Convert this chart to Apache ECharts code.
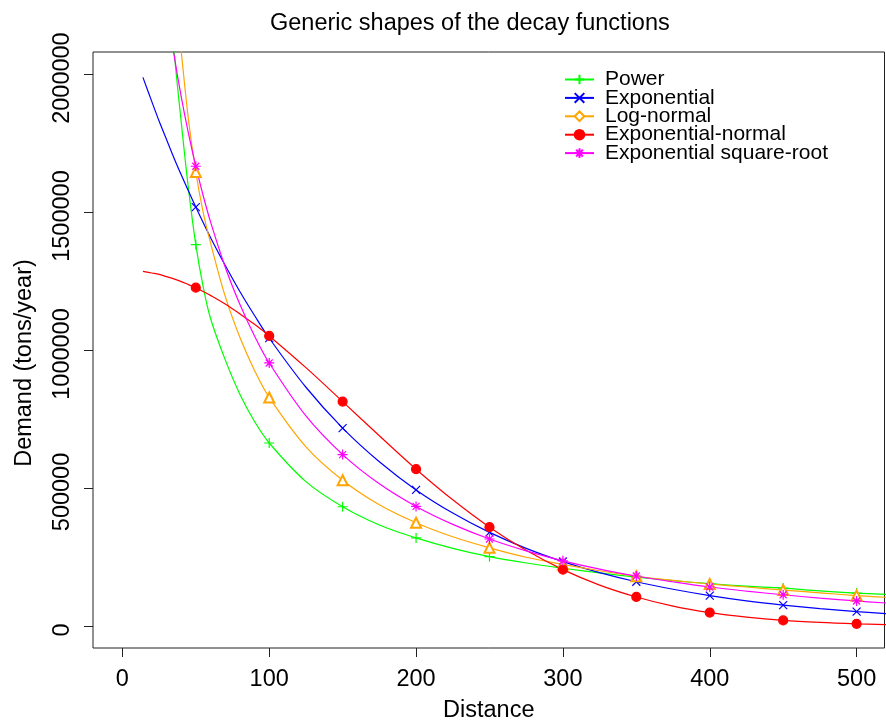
<!DOCTYPE html>
<html>
<head>
<meta charset="utf-8">
<script src="https://cdn.jsdelivr.net/npm/echarts@6/dist/echarts.min.js"></script>
<style>
html,body{margin:0;padding:0;background:#fff;}
#chart{width:886px;height:722px;}
</style>
</head>
<body>
<div id="chart"></div>
<script>
// ---- data ----
const distances = [14, 20, 25, 30, 35, 40, 45, 50, 55, 60, 70, 80, 90, 100, 125, 150, 175, 200, 225, 250, 275, 300, 325, 350, 375, 400, 425, 450, 475, 500, 520];
const markerDistances = [50, 100, 150, 200, 250, 300, 350, 400, 450, 500];

const power = [null, null, 3050000, 2500000, 2100000, 1830000, 1585000, 1382000, 1230000, 1115000, 965000, 840000, 741000, 663000, 523000, 432000, 366000, 319000, 281000, 251000, 228000, 209000, 192000, 177000, 164000, 153000, 144000, 137000, 127000, 119000, 114000];
const exponential = [1988000, 1901000, 1830000, 1764000, 1698000, 1636000, 1576000, 1518000, 1462000, 1408000, 1307000, 1212000, 1125000, 1043000, 865000, 717000, 595000, 493000, 409000, 339000, 281000, 233000, 193000, 160000, 133000, 110000, 91000, 75600, 62600, 52000, 44700];
const logNormal = [null, null, null, 2700000, 2330000, 2085000, 1835000, 1645000, 1500000, 1389000, 1195000, 1046000, 926000, 828000, 649000, 528000, 439000, 374000, 323000, 283000, 249000, 223000, 200000, 180000, 165000, 152000, 141000, 130000, 120000, 110000, 104000];
const expNormal = [1285000, 1279000, 1274000, 1266000, 1258000, 1248000, 1237000, 1226000, 1212000, 1198000, 1167000, 1131000, 1093000, 1051000, 936000, 813000, 689000, 568000, 457000, 358000, 274000, 204000, 148000, 105000, 72000, 48500, 32000, 20000, 12600, 7700, 5000];
const expSqrt = [null, 2734000, 2473000, 2258000, 2076000, 1920000, 1785000, 1666000, 1560000, 1465000, 1301000, 1166000, 1051000, 953000, 761000, 621000, 515000, 433000, 368000, 315000, 272000, 236000, 206000, 181000, 160000, 141000, 126000, 113000, 100700, 90500, 83000];

const xTicks = [0, 100, 200, 300, 400, 500];
const yTicks = [0, 500000, 1000000, 1500000, 2000000];

const seriesNames = ['Power', 'Exponential', 'Log-normal', 'Exponential-normal', 'Exponential square-root'];
const seriesColors = ['#00ff00', '#0000ff', '#ffa500', '#ff0000', '#ff00ff'];

// ---- build ----
const FONT = '"Liberation Sans", Arial, Helvetica, sans-serif';
const P_PLUS = 'path://M5,0L5,10M0,5L10,5';
const P_X = 'path://M0,0L10,10M10,0L0,10';
const P_STAR = 'path://M5,0L5,10M0,5L10,5M1.5,1.5L8.5,8.5M8.5,1.5L1.5,8.5';

function buildData(values, markerSymbol) {
  const out = [];
  distances.forEach((d, i) => {
    if (values[i] === null) return;
    const isMarker = markerDistances.indexOf(d) >= 0;
    out.push({ value: [d, values[i]], symbol: isMarker ? markerSymbol : 'none' });
  });
  return out;
}

const defs = [
  { values: power, legendSymbol: P_PLUS, mark: P_PLUS, size: 10 },
  { values: exponential, legendSymbol: P_X, mark: P_X, size: 8 },
  { values: logNormal, legendSymbol: 'emptyDiamond', mark: 'emptyTriangle', size: 10 },
  { values: expNormal, legendSymbol: 'circle', mark: 'circle', size: 9 },
  { values: expSqrt, legendSymbol: P_STAR, mark: P_STAR, size: 10 }
];

const series = defs.map((d, i) => ({
  name: seriesNames[i],
  type: 'line',
  data: buildData(d.values, d.mark),
  symbol: d.legendSymbol,
  symbolSize: d.size,
  showSymbol: true,
  showAllSymbol: true,
  smooth: 0.35,
  clip: true,
  lineStyle: { color: seriesColors[i], width: 1.2 },
  itemStyle: { color: seriesColors[i], borderColor: seriesColors[i], borderWidth: 1.2 },
  emphasis: { disabled: true }
}));

const chart = echarts.init(document.getElementById('chart'), null, { renderer: 'canvas' });
chart.setOption({
  animation: false,
  backgroundColor: '#ffffff',
  title: {
    text: 'Generic shapes of the decay functions',
    left: 270, top: 12, padding: 0,
    textStyle: { fontFamily: FONT, fontSize: 23.5, fontWeight: 'normal', color: '#000' }
  },
  legend: {
    orient: 'vertical',
    left: 564, top: 69, padding: 0,
    itemWidth: 29, itemHeight: 12, itemGap: -2.6,
    data: seriesNames,
    textStyle: { fontFamily: FONT, fontSize: 21, color: '#000', padding: [0, 0, 0, 6] }
  },
  grid: {
    left: 93, top: 52, right: 1.5, bottom: 74,
    containLabel: false, outerBoundsMode: 'none',
    show: true, borderColor: '#222', borderWidth: 1, backgroundColor: 'transparent'
  },
  xAxis: {
    type: 'value', min: -20, max: 519,
    name: 'Distance', nameLocation: 'middle', nameGap: 51,
    nameTextStyle: { fontFamily: FONT, fontSize: 23.5, color: '#000' },
    axisLine: { show: false, onZero: false },
    axisTick: { show: true, customValues: xTicks, length: 9, lineStyle: { color: '#222', width: 1 } },
    axisLabel: { customValues: xTicks, margin: 20, fontFamily: FONT, fontSize: 23.5, color: '#000', formatter: v => String(v) },
    splitLine: { show: false }
  },
  yAxis: {
    type: 'value', min: -80000, max: 2080000,
    name: 'Demand (tons/year)', nameLocation: 'middle', nameGap: 56, nameRotate: 90,
    nameTextStyle: { fontFamily: FONT, fontSize: 23.5, color: '#000', padding: [0, 26, 0, 0] },
    axisLine: { show: false, onZero: false },
    axisTick: { show: true, customValues: yTicks, length: 9, lineStyle: { color: '#222', width: 1 } },
    axisLabel: { customValues: yTicks, rotate: 90, margin: 18, padding: [0, 8, 0, 0], fontFamily: FONT, fontSize: 23.5, color: '#000', formatter: v => String(v) },
    splitLine: { show: false }
  },
  series: series
});
</script>
</body>
</html>
